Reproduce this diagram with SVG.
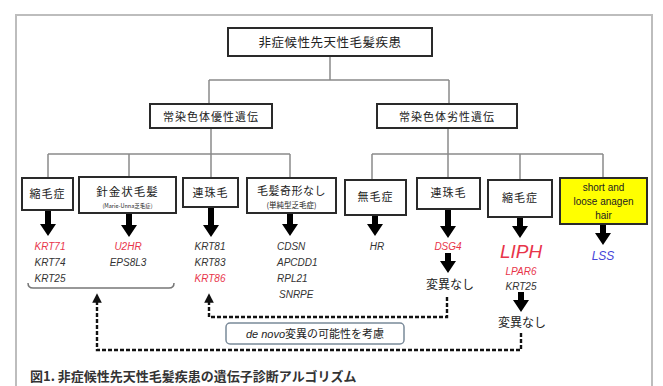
<svg xmlns="http://www.w3.org/2000/svg" width="663" height="386" viewBox="0 0 663 386">
<style>
.box{fill:#fff;stroke:#2a2a2a;stroke-width:2}
.conn{fill:none;stroke:#8a8a8a;stroke-width:1.5}
.dash{fill:none;stroke:#111;stroke-width:2.4;stroke-dasharray:4 2}
.jp{font-family:"Noto Sans CJK JP",sans-serif;fill:#222;text-anchor:middle}
.gene{font-family:"Liberation Sans",Arial,sans-serif;font-style:italic;font-size:10px;fill:#333;text-anchor:middle}
.red{fill:#e8344a}
.arrow{fill:#000}
</style>
<defs>
<marker id="up" viewBox="0 0 10 10" refX="5" refY="5" markerWidth="4" markerHeight="4" orient="auto-start-reverse"><path d="M0,0 L10,5 L0,10 Z" fill="#111"/></marker>
</defs>
<rect x="16" y="15" width="636" height="380" fill="#fff" stroke="#bdbdbd" stroke-width="2"/>

<g id="connectors">
<path class="conn" d="M330,56 V80 M209,80 H449 M209,80 V104 M449,80 V104"/>
<path class="conn" d="M211,128 V154 M48,154 H290 M48,154 V178 M129,154 V177 M211,154 V178 M290,154 V178"/>
<path class="conn" d="M448,128 V154 M372,154 H603 M372,154 V180 M448,154 V178 M520,154 V180 M603,154 V178"/>
<path fill="none" stroke="#777" stroke-width="1.5" d="M28,283 Q28,288 33,288 H169 Q174,288 174,283"/>
<path class="dash" d="M447,297 V317 H209 V298" marker-end="url(#up)"/>
<path class="dash" d="M521,333 V350 H97 V298" marker-end="url(#up)"/>
<g class="arrow">
<path d="M-3,0 H3 V14 H8 L0,26 L-8,14 H-3 Z" transform="translate(48,210)"/>
<path d="M-3,0 H3 V12 H8 L0,24 L-8,12 H-3 Z" transform="translate(129,213)"/>
<path d="M-3,0 H3 V18 H8 L0,30 L-8,18 H-3 Z" transform="translate(211,207)"/>
<path d="M-3,0 H3 V12 H8 L0,24 L-8,12 H-3 Z" transform="translate(290,212)"/>
<path d="M-3,0 H3 V9 H8 L0,21 L-8,9 H-3 Z" transform="translate(375,215)"/>
<path d="M-3,0 H3 V17 H8 L0,29 L-8,17 H-3 Z" transform="translate(448,209)"/>
<path d="M-3,0 H3 V9 H8 L0,21 L-8,9 H-3 Z" transform="translate(520,217)"/>
<path d="M-3,0 H3 V8 H8 L0,20 L-8,8 H-3 Z" transform="translate(603,225)"/>
<path d="M-3,0 H3 V8 H8 L0,20 L-8,8 H-3 Z" transform="translate(448,253)"/>
<path d="M-3,0 H3 V8 H8 L0,20 L-8,8 H-3 Z" transform="translate(521,292)"/>
</g>
</g>

<g id="root">
<rect class="box" x="228" y="28" width="204" height="28"/>
<text class="jp" x="330" y="47" font-size="12.5" letter-spacing="0.5">非症候性先天性毛髪疾患</text>
</g>
<g id="dominant">
<rect class="box" x="150" y="104" width="122" height="24"/>
<text class="jp" x="211" y="120.5" font-size="11" letter-spacing="1">常染色体優性遺伝</text>
</g>
<g id="recessive">
<rect class="box" x="377" y="104" width="140" height="24"/>
<text class="jp" x="447" y="120.5" font-size="11" letter-spacing="1">常染色体劣性遺伝</text>
</g>

<g id="d-shukumosho">
<rect class="box" x="22" y="178" width="51" height="32"/>
<text class="jp" x="47.5" y="198" font-size="11" letter-spacing="1">縮毛症</text>
</g>
<g id="d-harigane">
<rect class="box" x="79" y="177" width="97" height="36"/>
<text class="jp" x="127.5" y="196" font-size="11.5" letter-spacing="1">針金状毛髪</text>
<text class="jp" x="127.5" y="208" font-size="5.5">(Marie-Unna乏毛症)</text>
</g>
<g id="d-renjumo">
<rect class="box" x="183" y="178" width="55" height="29"/>
<text class="jp" x="210.5" y="197" font-size="11" letter-spacing="1">連珠毛</text>
</g>
<g id="d-nokikei">
<rect class="box" x="247" y="178" width="89" height="35"/>
<text class="jp" x="291.5" y="195" font-size="11" letter-spacing="0.5">毛髪奇形なし</text>
<text class="jp" x="291.5" y="208" font-size="7.5">(単純型乏毛症)</text>
</g>
<g id="r-mumosho">
<rect class="box" x="345" y="180" width="61" height="35"/>
<text class="jp" x="375.5" y="201" font-size="11" letter-spacing="1">無毛症</text>
</g>
<g id="r-renjumo">
<rect class="box" x="417" y="178" width="63" height="31"/>
<text class="jp" x="448.5" y="197" font-size="11" letter-spacing="1">連珠毛</text>
</g>
<g id="r-shukumosho">
<rect class="box" x="488" y="180" width="64" height="37"/>
<text class="jp" x="520" y="202" font-size="11" letter-spacing="1">縮毛症</text>
</g>
<g id="r-lsah">
<rect x="560" y="178" width="87" height="46" fill="#ffff00" stroke="#2a2a2a" stroke-width="2"/>
<text font-family="Liberation Sans,Arial,sans-serif" font-size="10" fill="#222" text-anchor="middle"><tspan x="603.5" y="191">short and</tspan><tspan x="603.5" y="205">loose anagen</tspan><tspan x="603.5" y="219">hair</tspan></text>
</g>

<g id="genes">
<text class="gene red" x="50" y="250">KRT71</text>
<text class="gene" x="50" y="266">KRT74</text>
<text class="gene" x="50" y="282">KRT25</text>
<text class="gene red" x="128" y="250">U2HR</text>
<text class="gene" x="128" y="266">EPS8L3</text>
<text class="gene" x="210" y="250">KRT81</text>
<text class="gene" x="210" y="266">KRT83</text>
<text class="gene red" x="210" y="282">KRT86</text>
<text class="gene" x="277" y="250" style="text-anchor:start">CDSN</text>
<text class="gene" x="277" y="266" style="text-anchor:start">APCDD1</text>
<text class="gene" x="277" y="282" style="text-anchor:start">RPL21</text>
<text class="gene" x="279" y="298" style="text-anchor:start">SNRPE</text>
<text class="gene" x="377" y="250">HR</text>
<text class="gene red" x="448" y="250">DSG4</text>
<text class="gene red" x="521" y="258" style="font-size:19px">LIPH</text>
<text class="gene red" x="521" y="275">LPAR6</text>
<text class="gene" x="521" y="290">KRT25</text>
<text class="gene" x="603" y="260" style="font-size:12px;fill:#4444d8">LSS</text>
</g>

<g id="nomut1">
<text class="jp" x="450" y="289" font-size="12">変異なし</text>
</g>
<g id="nomut2">
<text class="jp" x="522" y="327" font-size="12">変異なし</text>
</g>
<g id="denovo">
<rect x="226" y="323" width="178" height="21" rx="4" fill="#fff" stroke="#7a8a99" stroke-width="1.5"/>
<text x="315" y="338" font-size="11" fill="#222" text-anchor="middle" font-family="Liberation Sans,'Noto Sans CJK JP',sans-serif"><tspan font-style="italic">de novo</tspan><tspan font-family="Noto Sans CJK JP,sans-serif">変異の可能性を考慮</tspan></text>
</g>
<text x="30" y="381" font-size="13" fill="#333" font-weight="bold" font-family="Noto Sans CJK JP,sans-serif">図1. 非症候性先天性毛髪疾患の遺伝子診断アルゴリズム</text>
</svg>
